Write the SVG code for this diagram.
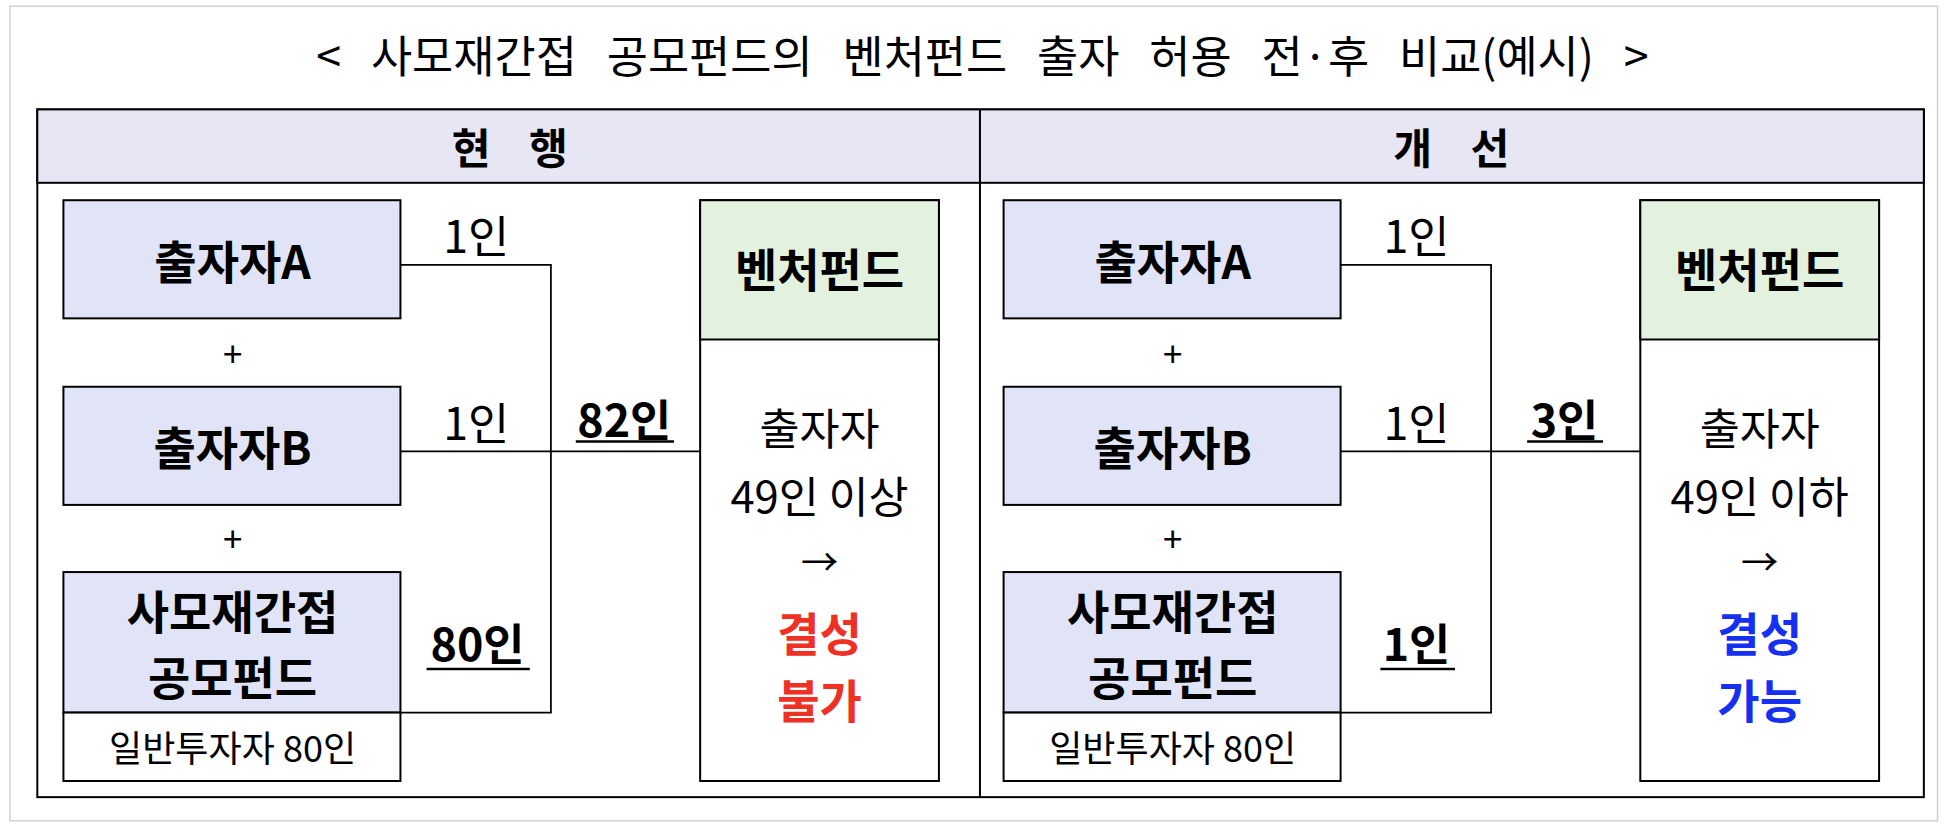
<svg xmlns="http://www.w3.org/2000/svg" width="1950" height="828" viewBox="0 0 1950 828">
<style>
text{font-family:"Noto Sans CJK KR","Noto Sans",sans-serif;fill:#000;text-anchor:middle;dominant-baseline:central}
.b{font-weight:bold}
.blue{fill:#E0E4F6;stroke:#000;stroke-width:1.6}
.wh{fill:#fff;stroke:#000;stroke-width:1.6}
.gr{fill:#E3F1DF;stroke:#000;stroke-width:1.6}
.ln{fill:none;stroke:#000;stroke-width:1.4}
.ul{stroke:#000;stroke-width:2}
</style>
<rect width="1950" height="828" fill="#fff"/>
<g transform="scale(1.2436)">
<rect x="8" y="5" width="1550" height="655" fill="#fff" stroke="#d0d0d0" stroke-width="1.2"/>
<text x="790" y="43" font-size="36" word-spacing="16">&lt; 사모재간접 공모펀드의 벤처펀드 출자 허용 전·후 비교(예시) &gt;</text>
<g id="table">
<rect x="30" y="88" width="1517" height="553" fill="#fff" stroke="#000" stroke-width="1.6"/>
<rect x="30" y="88" width="1517" height="59" fill="#E6E6F5" stroke="#000" stroke-width="1.6"/>
<line x1="788" y1="88" x2="788" y2="641" stroke="#000" stroke-width="1.6"/>
<text class="b" x="410" y="117" font-size="34" xml:space="preserve">현    행</text>
<text class="b" x="1167" y="117" font-size="34" xml:space="preserve">개    선</text>
</g>
<g id="connectors">
<polyline class="ln" points="322,213 443,213 443,573 322,573"/>
<line class="ln" x1="322" y1="363" x2="563" y2="363"/>
<polyline class="ln" points="1078,213 1199,213 1199,573 1078,573"/>
<line class="ln" x1="1078" y1="363" x2="1319" y2="363"/>
<text x="383" y="188" font-size="36">1인</text>
<text x="383" y="338" font-size="36">1인</text>
<text class="b" x="384" y="516" font-size="36">80인</text>
<line class="ul" x1="343" y1="538" x2="426" y2="538"/>
<text class="b" x="502" y="336" font-size="36">82인</text>
<line class="ul" x1="463" y1="355" x2="542" y2="355"/>
<text x="1139" y="188" font-size="36">1인</text>
<text x="1139" y="338" font-size="36">1인</text>
<text class="b" x="1139" y="516" font-size="36">1인</text>
<line class="ul" x1="1110" y1="538" x2="1170" y2="538"/>
<text class="b" x="1258" y="336" font-size="36">3인</text>
<line class="ul" x1="1228" y1="355" x2="1289" y2="355"/>
</g>
<g id="L-A"><rect class="blue" x="51" y="161" width="271" height="95"/><text class="b" x="187" y="208" font-size="37">출자자A</text></g>
<text x="187" y="283" font-size="28">+</text>
<g id="L-B"><rect class="blue" x="51" y="311" width="271" height="95"/><text class="b" x="187" y="358" font-size="37">출자자B</text></g>
<text x="187" y="432" font-size="28">+</text>
<g id="L-C"><rect class="blue" x="51" y="460" width="271" height="113"/><rect class="wh" x="51" y="573" width="271" height="55"/>
<text class="b" x="187" y="490" font-size="37">사모재간접</text><text class="b" x="187" y="543" font-size="37">공모펀드</text>
<text x="187" y="600" font-size="29">일반투자자 80인</text></g>
<g id="L-V"><rect class="wh" x="563" y="161" width="192" height="467"/><rect class="gr" x="563" y="161" width="192" height="112"/>
<text class="b" x="659" y="215" font-size="37">벤처펀드</text>
<text x="659" y="343" font-size="35">출자자</text><text x="659" y="398" font-size="35">49인 이상</text>
<text x="659" y="450" font-size="30">→</text>
<text class="b" x="659" y="507" font-size="37" style="fill:#EE3124">결성</text><text class="b" x="659" y="561" font-size="37" style="fill:#EE3124">불가</text></g>
<g id="R-A"><rect class="blue" x="807" y="161" width="271" height="95"/><text class="b" x="943" y="208" font-size="37">출자자A</text></g>
<text x="943" y="283" font-size="28">+</text>
<g id="R-B"><rect class="blue" x="807" y="311" width="271" height="95"/><text class="b" x="943" y="358" font-size="37">출자자B</text></g>
<text x="943" y="432" font-size="28">+</text>
<g id="R-C"><rect class="blue" x="807" y="460" width="271" height="113"/><rect class="wh" x="807" y="573" width="271" height="55"/>
<text class="b" x="943" y="490" font-size="37">사모재간접</text><text class="b" x="943" y="543" font-size="37">공모펀드</text>
<text x="943" y="600" font-size="29">일반투자자 80인</text></g>
<g id="R-V"><rect class="wh" x="1319" y="161" width="192" height="467"/><rect class="gr" x="1319" y="161" width="192" height="112"/>
<text class="b" x="1415" y="215" font-size="37">벤처펀드</text>
<text x="1415" y="343" font-size="35">출자자</text><text x="1415" y="398" font-size="35">49인 이하</text>
<text x="1415" y="450" font-size="30">→</text>
<text class="b" x="1415" y="507" font-size="37" style="fill:#1530F0">결성</text><text class="b" x="1415" y="561" font-size="37" style="fill:#1530F0">가능</text></g>
</g>
</svg>
